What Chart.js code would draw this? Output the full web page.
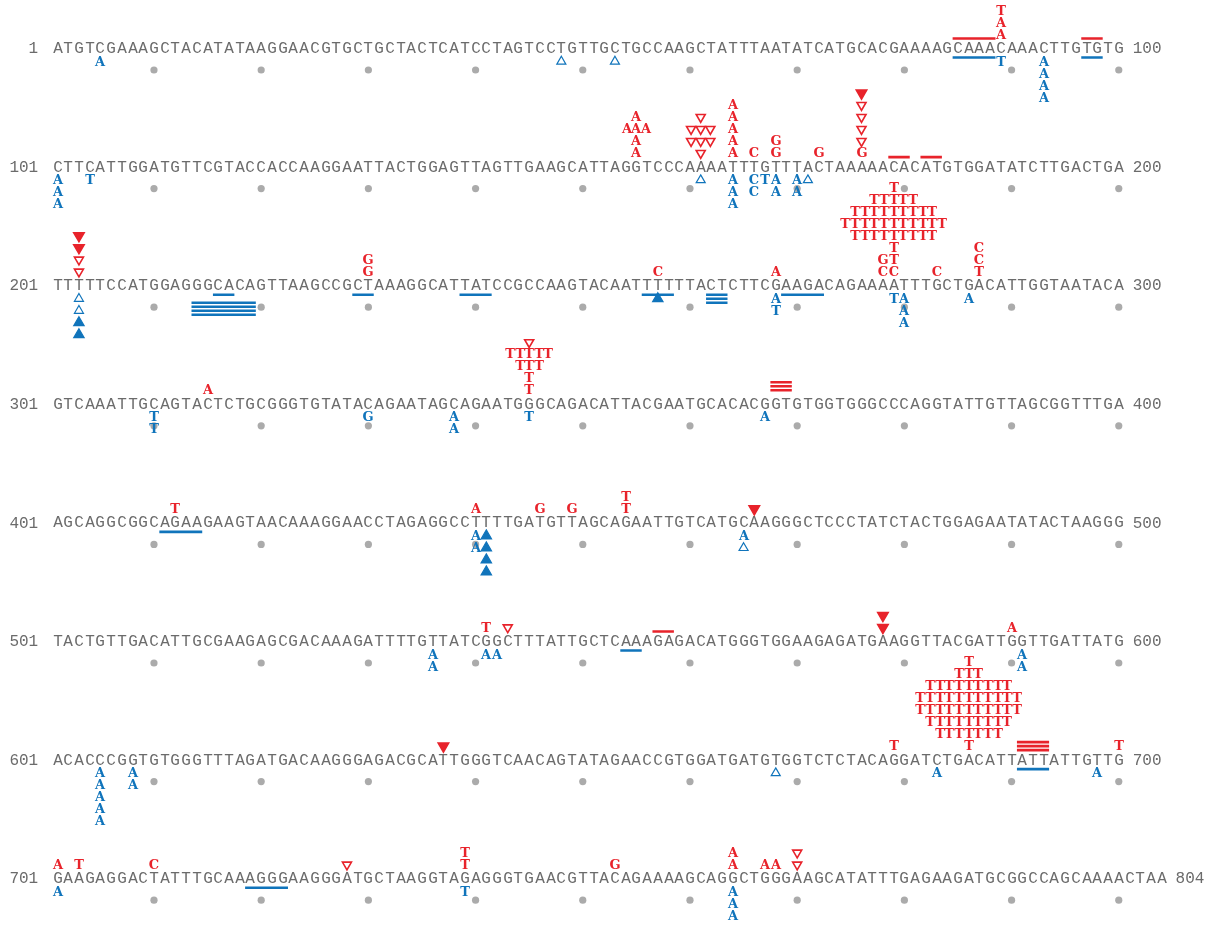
<!DOCTYPE html>
<html>
<head>
<meta charset="utf-8">
<style>
  html, body { margin: 0; padding: 0; background: #fff; }
  canvas { display: block; }
</style>
<script src="https://cdn.jsdelivr.net/npm/chart.js@4.4.0/dist/chart.umd.min.js"></script>
</head>
<body>
<canvas id="chart" width="1218" height="926"></canvas>
<script>
const rowStarts = [1, 101, 201, 301, 401, 501, 601, 701];
const sequenceRows = [
  'ATGTCGAAAGCTACATATAAGGAACGTGCTGCTACTCATCCTAGTCCTGTTGCTGCCAAGCTATTTAATATCATGCACGAAAAGCAAACAAACTTGTGTG',
  'CTTCATTGGATGTTCGTACCACCAAGGAATTACTGGAGTTAGTTGAAGCATTAGGTCCCAAAATTTGTTTACTAAAAACACATGTGGATATCTTGACTGA',
  'TTTTTCCATGGAGGGCACAGTTAAGCCGCTAAAGGCATTATCCGCCAAGTACAATTTTTTACTCTTCGAAGACAGAAAATTTGCTGACATTGGTAATACA',
  'GTCAAATTGCAGTACTCTGCGGGTGTATACAGAATAGCAGAATGGGCAGACATTACGAATGCACACGGTGTGGTGGGCCCAGGTATTGTTAGCGGTTTGA',
  'AGCAGGCGGCAGAAGAAGTAACAAAGGAACCTAGAGGCCTTTTGATGTTAGCAGAATTGTCATGCAAGGGCTCCCTATCTACTGGAGAATATACTAAGGG',
  'TACTGTTGACATTGCGAAGAGCGACAAAGATTTTGTTATCGGCTTTATTGCTCAAAGAGACATGGGTGGAAGAGATGAAGGTTACGATTGGTTGATTATG',
  'ACACCCGGTGTGGGTTTAGATGACAAGGGAGACGCATTGGGTCAACAGTATAGAACCGTGGATGATGTGGTCTCTACAGGATCTGACATTATTATTGTTG',
  'GAAGAGGACTATTTGCAAAGGGAAGGGATGCTAAGGTAGAGGGTGAACGTTACAGAAAAGCAGGCTGGGAAGCATATTTGAGAAGATGCGGCCAGCAAAACTAA'
];

// changes above the sequence (red): [base, levels bottom-up separated by spaces]
// v = open triangle, V = filled triangle
const redAbove = [
  [89, 'A A T'],
  [155, 'A A AAA A'], [161, 'v vvv vvv v'], [164, 'A A A A A'], [166, 'C'], [168, 'G G'],
  [172, 'G'], [176, 'G v v v v V'],
  [203, 'v v V V'], [230, 'G G'], [257, 'C'], [268, 'A'], [278, 'C G'],
  [279, 'C T T TTTTTTTTT TTTTTTTTTTT TTTTTTTTT TTTTT T'], [283, 'C'], [287, 'T C C'],
  [315, 'A'], [345, 'T T TTT TTTTT v'],
  [412, 'T'], [440, 'A'], [446, 'G'], [449, 'G'], [454, 'T T'], [466, 'V'],
  [541, 'T'], [543, 'v'], [578, 'V V'], [590, 'A'],
  [637, 'V'], [679, 'T'], [686, 'T TTTTTTT TTTTTTTTT TTTTTTTTTTT TTTTTTTTTTT TTTTTTTTT TTT T'], [700, 'T'],
  [701, 'A'], [703, 'T'], [710, 'C'], [728, 'v'], [739, 'T T'], [753, 'G'], [764, 'A A'],
  [767, 'A'], [768, 'A'], [770, 'v v']
];

// changes below the sequence (blue), d = open triangle, D = filled triangle
const blueBelow = [
  [5, 'A'], [48, 'd'], [53, 'd'], [89, 'T'], [93, 'A A A A'],
  [101, 'A A A'], [104, 'T'], [161, 'd'], [164, 'A A A'], [166, 'C C'], [167, 'T'],
  [168, 'A A'], [170, 'A A'], [171, 'd'],
  [203, 'd d D D'], [257, 'D'], [268, 'A T'], [279, 'T'], [280, 'A A A'], [286, 'A'],
  [310, 'T T'], [330, 'G'], [338, 'A A'], [345, 'T'], [367, 'A'],
  [440, 'A A'], [441, 'D D D D'], [465, 'A d'],
  [536, 'A A'], [541, 'A'], [542, 'A'], [591, 'A A'],
  [605, 'A A A A A'], [608, 'A A'], [668, 'd'], [683, 'A'], [698, 'A'],
  [701, 'A'], [739, 'T'], [764, 'A A A']
];

// deleted stretches: [first base, last base, stack index]
const redBars = [
  [85, 88, 0], [97, 98, 0], [179, 180, 0], [182, 183, 0],
  [368, 369, 1], [368, 369, 2], [368, 369, 3],
  [557, 558, 0], [691, 693, 0], [691, 693, 1], [691, 693, 2]
];
const blueBars = [
  [85, 88, 0], [97, 98, 0],
  [214, 215, 2], [214, 215, 3], [214, 215, 4], [214, 215, 5],
  [216, 217, 0], [216, 217, 2], [216, 217, 3], [216, 217, 4], [216, 217, 5],
  [218, 219, 2], [218, 219, 3], [218, 219, 4], [218, 219, 5],
  [229, 230, 0], [239, 241, 0], [256, 258, 0],
  [262, 263, 0], [262, 263, 1], [262, 263, 2],
  [269, 272, 0], [411, 414, 0], [554, 555, 0], [691, 693, 0], [719, 722, 0]
];

const RED = '#e8232b';
const BLUE = '#1074bb';
const GREY = '#6b6b6b';
const DOT = '#ababab';

const charW = 10.72, firstX = 57.5, firstY = 48, rowH = 118.6;
const levelFirst = 13.5, levelStep = 12, clusterStep = 0.9;
const barFirst = 9.5, barStep = 4, dotGap = 22;

function locate(pos) {
  let r = rowStarts.length - 1;
  while (pos < rowStarts[r]) r--;
  return { r: r, c: pos - rowStarts[r] + 1 };
}

function glyph(ch, color, font, w, h) {
  const cv = document.createElement('canvas');
  cv.width = w; cv.height = h;
  const g = cv.getContext('2d');
  g.font = font;
  g.fillStyle = color;
  g.textAlign = 'center';
  g.textBaseline = 'middle';
  g.fillText(ch, w / 2, h / 2 + 1);
  return cv;
}

const seqGlyphs = {}, redGlyphs = {}, blueGlyphs = {};
'ACGT'.split('').forEach(ch => {
  seqGlyphs[ch] = glyph(ch, GREY, '16px "Liberation Mono"', 14, 20);
  redGlyphs[ch] = glyph(ch, RED, 'bold 13px "DejaVu Serif"', 16, 16);
  blueGlyphs[ch] = glyph(ch, BLUE, 'bold 13px "DejaVu Serif"', 16, 16);
});

function stackPoints(list, side) {
  const pts = [];
  list.forEach(([pos, stack]) => {
    const { r, c } = locate(pos);
    stack.split(' ').forEach((lv, i) => {
      const n = lv.length;
      lv.split('').forEach((m, k) => {
        pts.push({
          x: c + (k - (n - 1) / 2) * clusterStep,
          y: r + side * (levelFirst + i * levelStep) / rowH,
          m: m
        });
      });
    });
  });
  return pts;
}

function barPoints(list, side) {
  const pts = [];
  list.forEach(([a, b, k]) => {
    const p = locate(a), q = locate(b);
    const y = p.r + side * (barFirst + k * barStep) / rowH;
    pts.push({ x: p.c - 0.5, y: y }, { x: q.c + 0.5, y: y }, { x: q.c + 0.5, y: null });
  });
  return pts;
}

const seqPoints = [];
const dotPoints = [];
sequenceRows.forEach((s, r) => {
  s.split('').forEach((ch, i) => seqPoints.push({ x: i + 1, y: r, m: ch }));
  for (let c = 10; c <= s.length; c += 10) dotPoints.push({ x: c, y: r + dotGap / rowH });
});

const redPts = stackPoints(redAbove, -1);
const bluePts = stackPoints(blueBelow, 1);
const isTri = p => 'vVdD'.includes(p.m);

function letterSet(data, glyphs) {
  return {
    data: data,
    pointStyle: ctx => ctx.raw ? glyphs[ctx.raw.m] : 'circle',
    pointRadius: 5
  };
}

function triangleSet(data, color, down) {
  return {
    data: data,
    pointStyle: 'triangle',
    rotation: down ? 180 : 0,
    pointRadius: ctx => ctx.raw && ctx.raw.m === ctx.raw.m.toUpperCase() ? 6 : 5.2,
    backgroundColor: ctx => ctx.raw && ctx.raw.m === ctx.raw.m.toUpperCase() ? color : 'rgba(255,255,255,0)',
    borderColor: color,
    borderWidth: down ? 1.6 : 1.2
  };
}

function barSet(data, color) {
  return {
    data: data,
    showLine: true,
    spanGaps: false,
    borderColor: color,
    borderWidth: 2.6,
    borderCapStyle: 'butt',
    pointRadius: 0
  };
}

const rowLabels = {
  id: 'rowLabels',
  beforeDatasetsDraw(chart) {
    chart.ctx.imageSmoothingEnabled = false;
  },
  afterDraw(chart) {
    const { ctx, scales: { x, y } } = chart;
    ctx.save();
    ctx.font = '16px "Liberation Mono"';
    ctx.fillStyle = GREY;
    ctx.textBaseline = 'middle';
    sequenceRows.forEach((s, r) => {
      const py = y.getPixelForValue(r) + 1;
      ctx.textAlign = 'right';
      ctx.fillText(String(rowStarts[r]), x.getPixelForValue(-0.8), py);
      ctx.textAlign = 'left';
      ctx.fillText(String(rowStarts[r] + s.length - 1), x.getPixelForValue(s.length + 1.3), py);
    });
    ctx.restore();
  }
};

const xMin = 1 - firstX / charW;
const yMin = -firstY / rowH;

new Chart(document.getElementById('chart'), {
  type: 'scatter',
  data: {
    datasets: [
      letterSet(redPts.filter(p => !isTri(p)), redGlyphs),
      letterSet(bluePts.filter(p => !isTri(p)), blueGlyphs),
      triangleSet(redPts.filter(isTri), RED, true),
      triangleSet(bluePts.filter(isTri), BLUE, false),
      letterSet(seqPoints, seqGlyphs),
      barSet(barPoints(redBars, -1), RED),
      barSet(barPoints(blueBars, 1), BLUE),
      { data: dotPoints, pointRadius: 3.6, backgroundColor: DOT, borderWidth: 0 }
    ]
  },
  options: {
    responsive: false,
    animation: false,
    events: [],
    layout: { padding: 0, autoPadding: false },
    plugins: { legend: { display: false }, tooltip: { enabled: false } },
    scales: {
      x: { type: 'linear', display: false, min: xMin, max: xMin + 1218 / charW },
      y: { type: 'linear', display: false, reverse: true, min: yMin, max: yMin + 926 / rowH }
    }
  },
  plugins: [rowLabels]
});
</script>
</body>
</html>
